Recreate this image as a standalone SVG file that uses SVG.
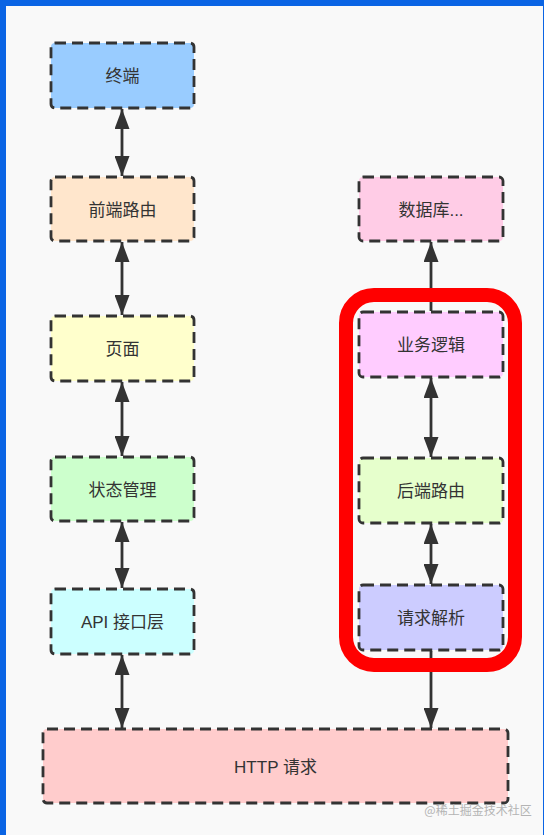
<svg xmlns="http://www.w3.org/2000/svg" width="546" height="835" viewBox="0 0 546 835">
<style>
.box{stroke:#333;stroke-width:2.8;stroke-dasharray:11 6}
.lbl{font-family:"Liberation Sans","Noto Sans CJK SC",sans-serif;font-size:17px;fill:#333;text-anchor:middle}
.con{stroke:#333;stroke-width:2.8;fill:none}
</style>
<defs>
<marker id="ah" viewBox="0 0 20 15" refX="20" refY="7.5" markerWidth="20" markerHeight="15" markerUnits="userSpaceOnUse" orient="auto-start-reverse">
<path d="M0,0 L20,7.5 L0,15 z" fill="#333"/>
</marker>
</defs>
<rect x="0" y="0" width="546" height="835" fill="#ffffff"/>
<rect x="0" y="0" width="544" height="835" fill="#0a64e4"/>
<rect x="6" y="6" width="537" height="829" fill="#f9f9f9"/>

<g id="connectors">
<line class="con" x1="122" y1="109" x2="122" y2="176" marker-start="url(#ah)" marker-end="url(#ah)"/>
<line class="con" x1="122" y1="242" x2="122" y2="315" marker-start="url(#ah)" marker-end="url(#ah)"/>
<line class="con" x1="122" y1="382" x2="122" y2="456" marker-start="url(#ah)" marker-end="url(#ah)"/>
<line class="con" x1="122" y1="522" x2="122" y2="588" marker-start="url(#ah)" marker-end="url(#ah)"/>
<line class="con" x1="122" y1="655" x2="122" y2="728" marker-start="url(#ah)" marker-end="url(#ah)"/>
<line class="con" x1="431" y1="311" x2="431" y2="242" marker-end="url(#ah)"/>
<line class="con" x1="431" y1="378" x2="431" y2="457" marker-start="url(#ah)" marker-end="url(#ah)"/>
<line class="con" x1="431" y1="524" x2="431" y2="584" marker-start="url(#ah)" marker-end="url(#ah)"/>
<line class="con" x1="431" y1="651" x2="431" y2="728" marker-end="url(#ah)"/>
</g>

<g id="n-terminal"><rect class="box" x="51" y="43" width="143" height="65" rx="4" fill="#99ccff"/><text class="lbl" x="122.5" y="82">终端</text></g>
<g id="n-frontroute"><rect class="box" x="51" y="177" width="143" height="64" rx="4" fill="#ffe6cc"/><text class="lbl" x="122.5" y="215.5">前端路由</text></g>
<g id="n-page"><rect class="box" x="51" y="316" width="143" height="65" rx="4" fill="#ffffcc"/><text class="lbl" x="122.5" y="355">页面</text></g>
<g id="n-state"><rect class="box" x="51" y="457" width="143" height="64" rx="4" fill="#ccffcc"/><text class="lbl" x="122.5" y="495.5">状态管理</text></g>
<g id="n-api"><rect class="box" x="51" y="589" width="143" height="65" rx="4" fill="#ccffff"/><text class="lbl" x="122.5" y="628">API 接口层</text></g>
<g id="n-http"><rect class="box" x="43" y="729" width="465" height="74" rx="4" fill="#ffcccc"/><text class="lbl" x="275.5" y="772.5">HTTP 请求</text></g>
<g id="n-db"><rect class="box" x="359" y="177" width="144" height="64" rx="4" fill="#ffcce6"/><text class="lbl" x="431" y="215.5">数据库...</text></g>
<g id="n-logic"><rect class="box" x="359" y="312" width="144" height="65" rx="4" fill="#ffccff"/><text class="lbl" x="431" y="351">业务逻辑</text></g>
<g id="n-backroute"><rect class="box" x="359" y="458" width="144" height="65" rx="4" fill="#e6ffcc"/><text class="lbl" x="431" y="497">后端路由</text></g>
<g id="n-parse"><rect class="box" x="359" y="585" width="144" height="65" rx="4" fill="#ccccff"/><text class="lbl" x="431" y="624">请求解析</text></g>

<g id="highlight"><rect x="346" y="295" width="169" height="370" rx="28" fill="none" stroke="#ff0000" stroke-width="14"/></g>

<text x="478" y="815" font-family="'Noto Sans CJK SC',sans-serif" font-size="12" fill="#b4b4b4" text-anchor="middle">@稀土掘金技术社区</text>
</svg>
